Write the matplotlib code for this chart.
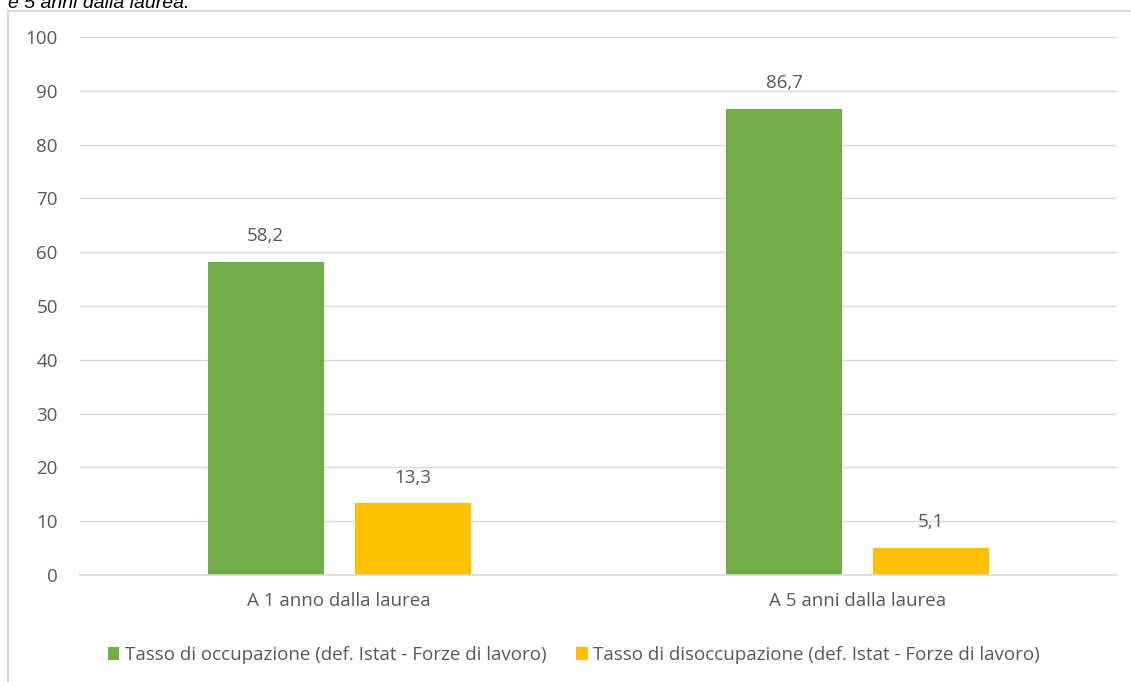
import matplotlib.pyplot as plt
from matplotlib.patches import Rectangle

# ---------------------------------------------------------------------------
# Data
# ---------------------------------------------------------------------------
categories = ['A 1 anno dalla laurea', 'A 5 anni dalla laurea']
series_names = ['Tasso di occupazione (def. Istat - Forze di lavoro)',
                'Tasso di disoccupazione (def. Istat - Forze di lavoro)']
occupazione = [58.2, 86.7]
disoccupazione = [13.3, 5.1]
y_ticks = [0, 10, 20, 30, 40, 50, 60, 70, 80, 90, 100]

GREEN = '#70AD47'
YELLOW = '#FFC000'
TEXT = '#595959'
GRID = '#D9D9D9'
FS = 13.5

plt.rcParams['font.family'] = ['Open Sans', 'DejaVu Sans']

fig = plt.figure(figsize=(11.31, 6.82), dpi=100)
W, H = 1131, 682

# chart frame (clipped at right/bottom like the original screenshot)
fig.patches.append(Rectangle((8 / W, -0.05), 1.1, 1 - 11 / H + 0.05,
                             transform=fig.transFigure, fill=False,
                             edgecolor=GRID, linewidth=1.5))
# cut-off caption at top
fig.text(8 / W, 1 - 8 / H, 'e 5 anni dalla laurea.', style='italic',
         fontsize=14, color='black', ha='left', va='baseline',
         family=['Liberation Sans', 'DejaVu Sans'])

ax = fig.add_axes([80 / W, 1 - 575 / H, 1037 / W, 538 / H])

x = list(range(len(categories)))
bw = 0.224
off = 0.142
b1 = ax.bar([i - off for i in x], occupazione, width=bw, color=GREEN,
            label=series_names[0])
b2 = ax.bar([i + off for i in x], disoccupazione, width=bw, color=YELLOW,
            label=series_names[1])

for bars, vals in ((b1, occupazione), (b2, disoccupazione)):
    for rect, v in zip(bars, vals):
        ax.annotate(f'{v:.1f}'.replace('.', ','),
                    (rect.get_x() + rect.get_width() / 2, v),
                    xytext=(0, 12), textcoords='offset points',
                    ha='center', va='bottom', fontsize=FS, color=TEXT)

ax.set_xlim(-0.5, 1.5)
ax.set_ylim(0, 100)
ax.set_yticks(y_ticks)
ax.set_xticks(x)
ax.set_xticklabels(categories)
ax.tick_params(axis='both', length=0, labelsize=FS, labelcolor=TEXT)
ax.tick_params(axis='y', pad=16)
ax.tick_params(axis='x', pad=12)
ax.grid(axis='y', color=GRID, linewidth=1)
ax.set_axisbelow(True)
for s in ['top', 'right', 'left']:
    ax.spines[s].set_visible(False)
ax.spines['bottom'].set_color(GRID)
ax.spines['bottom'].set_linewidth(1.2)

fig.legend(loc='center', bbox_to_anchor=(574 / W, 1 - 655 / H), ncol=2,
           frameon=False, fontsize=FS, handlelength=0.6, handleheight=0.7,
           handletextpad=0.3, columnspacing=1.6, labelcolor=TEXT)

fig.savefig('out.png', dpi=100)
